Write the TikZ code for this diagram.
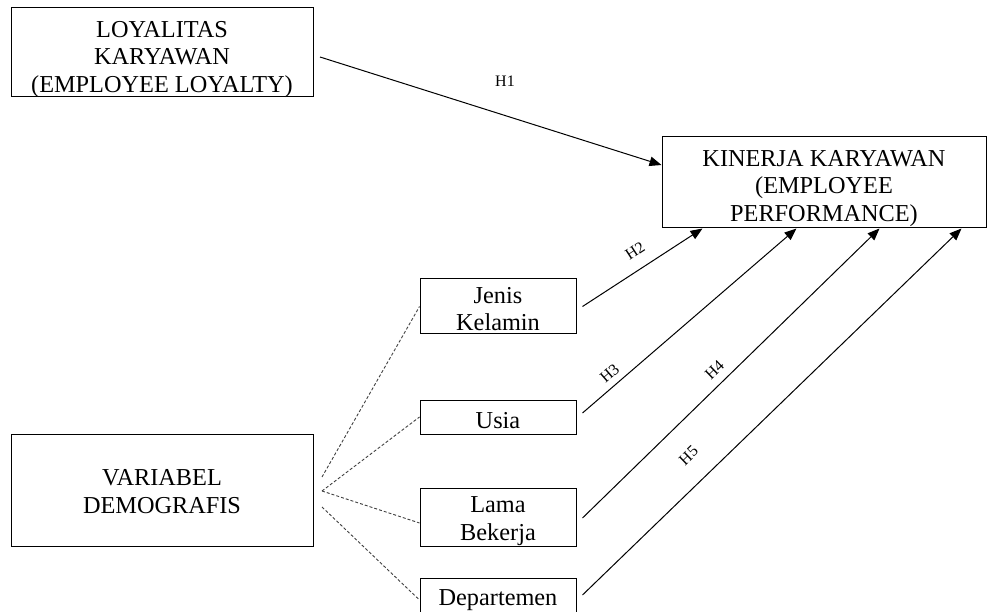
\documentclass[tikz,border=0pt]{standalone}
\usepackage{fontspec}
\setmainfont{Liberation Serif}
\usetikzlibrary{arrows.meta,calc}
\begin{document}
\begin{tikzpicture}[x=1pt,y=-1pt,
  box/.style={draw,line width=1pt,inner sep=0pt},
  txt/.style={align=center,inner sep=0pt,font=\fontsize{24.3}{27.5}\selectfont},
  hyp/.style={font=\fontsize{16}{18}\selectfont,inner sep=0.5pt},
  arr/.style={line width=1pt,-{Triangle[length=12pt,width=9.5pt]}},
  dline/.style={line width=0.9pt,dash pattern=on 3pt off 2pt,black!75}]
\useasboundingbox (0,0) rectangle (988,612);
\node[box,minimum width=302,minimum height=89] (loy) at (162,52.5) {};
\node[txt] (loyt) at ($(loy.center)+(0,7)$) {LOYALITAS\\KARYAWAN\\(EMPLOYEE LOYALTY)};
\node[box,minimum width=324,minimum height=91] (kin) at (824,182.5) {};
\node[txt] (kint) at ($(kin.center)+(0,6)$) {KINERJA KARYAWAN\\(EMPLOYEE\\PERFORMANCE)};
\node[box,minimum width=156,minimum height=55] (jk) at (498,306.5) {};
\node[txt] (jkt) at ($(jk.center)+(0,2.5)$) {Jenis\\Kelamin};
\node[box,minimum width=156,minimum height=34] (usia) at (498,417) {};
\node[txt] (usiat) at ($(usia.center)+(0,4)$) {Usia};
\node[box,minimum width=156,minimum height=58] (lama) at (498,517) {};
\node[txt] (lamat) at ($(lama.center)+(0,4)$) {Lama\\Bekerja};
\node[box,minimum width=156,minimum height=34] (dep) at (498,595) {};
\node[txt] (dept) at ($(dep.center)+(0,5)$) {Departemen};
\node[box,minimum width=302,minimum height=112] (var) at (162,490) {};
\node[txt] (vart) at ($(var.center)+(0,1.5)$) {VARIABEL\\DEMOGRAFIS};
% free ends
\coordinate (s1) at (320,57);
\coordinate (d1) at (322,477);
\coordinate (d2) at (322,491);
\coordinate (d4) at (322,507);
% H1
\draw[arr] (s1) -- (kin.west |- 0,165);
\node[hyp] (h1) at (505,81) {H1};
% dashed
\draw[dline] (d1) -- (jk.west);
\draw[dline] (d2) -- (usia.west);
\draw[dline] (d2) -- ($(lama.west)+(0,6)$);
\draw[dline] (d4) -- ($(dep.west)+(0,5)$);
% arrows to kinerja
\draw[arr] ($(jk.east)+(6,0)$) -- ($(kin.south west)+(41,0)$);
\draw[arr] ($(usia.east)+(6,-4)$) -- ($(kin.south west)+(135,0)$);
\draw[arr] ($(lama.east)+(6,1)$) -- ($(kin.south west)+(218,0)$);
\draw[arr] ($(dep.east)+(6,0)$) -- ($(kin.south west)+(300,0)$);
\node[hyp,rotate=33] (h2) at (635,251) {H2};
\node[hyp,rotate=41] (h3) at (609.5,373.5) {H3};
\node[hyp,rotate=44] (h4) at (714.5,369.5) {H4};
\node[hyp,rotate=44] (h5) at (688.5,455.5) {H5};
\end{tikzpicture}
\end{document}
